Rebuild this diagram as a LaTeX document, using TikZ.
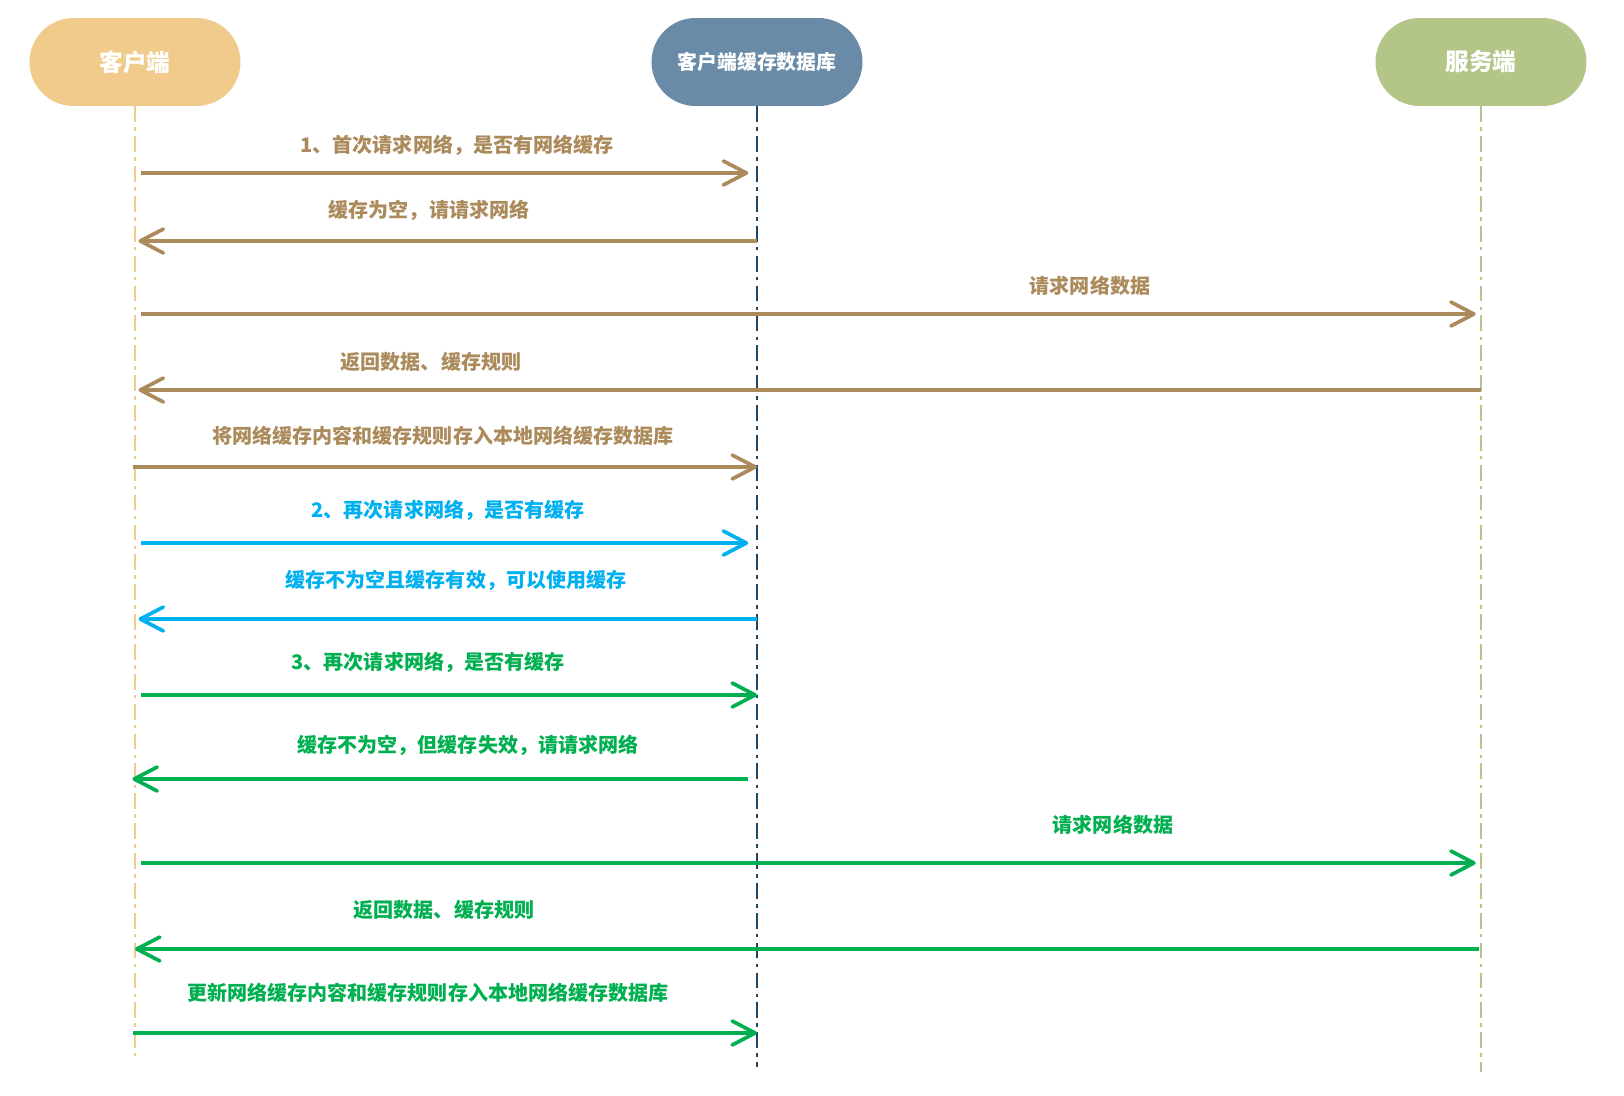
\documentclass[tikz,border=0pt]{standalone}
\usepackage{fontspec}
\setmainfont{Noto Sans CJK SC}
\usetikzlibrary{arrows.meta}
\definecolor{ClientGold}{HTML}{F1CB8B}
\definecolor{CacheSlate}{HTML}{6A8BA7}
\definecolor{ServerSage}{HTML}{B3C587}
\definecolor{CacheLine}{HTML}{1F4662}
\definecolor{MsgBrown}{HTML}{AB8B5C}
\definecolor{MsgBlue}{HTML}{00B0F0}
\definecolor{MsgGreen}{HTML}{00B050}

\begin{document}
\begin{tikzpicture}[x=0.02cm,y=-0.02cm,
    actor/.style={rounded corners=0.88cm,minimum width=4.22cm,minimum height=1.76cm,
                  text=white,font=\bfseries\fontsize{13.5}{15}\selectfont},
    life/.style={line width=1.1pt,dash pattern=on 9pt off 3pt on 2pt off 3pt},
    msg/.style={line width=2.1pt,-{Straight Barb[length=4.6mm,width=4.8mm,round]}},
    lbl/.style={font=\bfseries\fontsize{11.4}{13}\selectfont}]
    \fill[white] (0,0) rectangle (1624,1096);
    \useasboundingbox (0,0) rectangle (1624,1096);

    % participants
    \node[actor,fill=ClientGold] (cl) at (135,62) {客户端};
    \node[actor,fill=CacheSlate,font=\bfseries\fontsize{11.3}{13}\selectfont] (db) at (757,62) {客户端缓存数据库};
    \node[actor,fill=ServerSage] (sv) at (1481,62) {服务端};
    \draw[life,ClientGold] (cl) -- (cl |- 0,1056);
    \draw[life,CacheLine] (db) -- (db |- 0,1067);
    \draw[life,ServerSage] (sv) -- (sv |- 0,1072);

    % first request
    \node[lbl,MsgBrown] (m1) at (457,145) {1、首次请求网络，是否有网络缓存};
    \draw[msg,MsgBrown,shorten <=3.4pt,shorten >=5pt] (cl |- 0,173) -- (db |- 0,173);
    \node[lbl,MsgBrown] (m2) at (429,210) {缓存为空，请请求网络};
    \draw[msg,MsgBrown,shorten >=2pt] (db |- 0,241) -- (cl |- 0,241);
    \node[lbl,MsgBrown] (m3) at (1090,286) {请求网络数据};
    \draw[msg,MsgBrown,shorten <=3.4pt,shorten >=3pt] (cl |- 0,314) -- (sv |- 0,314);
    \node[lbl,MsgBrown] (m4) at (431,362) {返回数据、缓存规则};
    \draw[msg,MsgBrown,shorten >=2pt] (sv |- 0,390) -- (cl |- 0,390);
    \node[lbl,MsgBrown] (m5) at (443,436) {将网络缓存内容和缓存规则存入本地网络缓存数据库};
    \draw[msg,MsgBrown,shorten <=-1pt] (cl |- 0,467) -- (db |- 0,467);

    % cache valid
    \node[lbl,MsgBlue] (m6) at (448,510) {2、再次请求网络，是否有缓存};
    \draw[msg,MsgBlue,shorten <=3.4pt,shorten >=5pt] (cl |- 0,543) -- (db |- 0,543);
    \node[lbl,MsgBlue] (m7) at (456,580) {缓存不为空且缓存有效，可以使用缓存};
    \draw[msg,MsgBlue,shorten >=2pt] (db |- 0,619) -- (cl |- 0,619);

    % cache expired
    \node[lbl,MsgGreen] (m8) at (428,662) {3、再次请求网络，是否有缓存};
    \draw[msg,MsgGreen,shorten <=3.4pt] (cl |- 0,695) -- (db |- 0,695);
    \node[lbl,MsgGreen] (m9) at (468,745) {缓存不为空，但缓存失效，请请求网络};
    \draw[msg,MsgGreen,shorten <=5pt,shorten >=-1.5pt] (db |- 0,779) -- (cl |- 0,779);
    \node[lbl,MsgGreen] (m10) at (1113,825) {请求网络数据};
    \draw[msg,MsgGreen,shorten <=3.4pt,shorten >=3pt] (cl |- 0,863) -- (sv |- 0,863);
    \node[lbl,MsgGreen] (m11) at (444,910) {返回数据、缓存规则};
    \draw[msg,MsgGreen,shorten <=1pt] (sv |- 0,949) -- (cl |- 0,949);
    \node[lbl,MsgGreen] (m12) at (428,993) {更新网络缓存内容和缓存规则存入本地网络缓存数据库};
    \draw[msg,MsgGreen,shorten <=-1pt] (cl |- 0,1033) -- (db |- 0,1033);
\end{tikzpicture}
\end{document}
